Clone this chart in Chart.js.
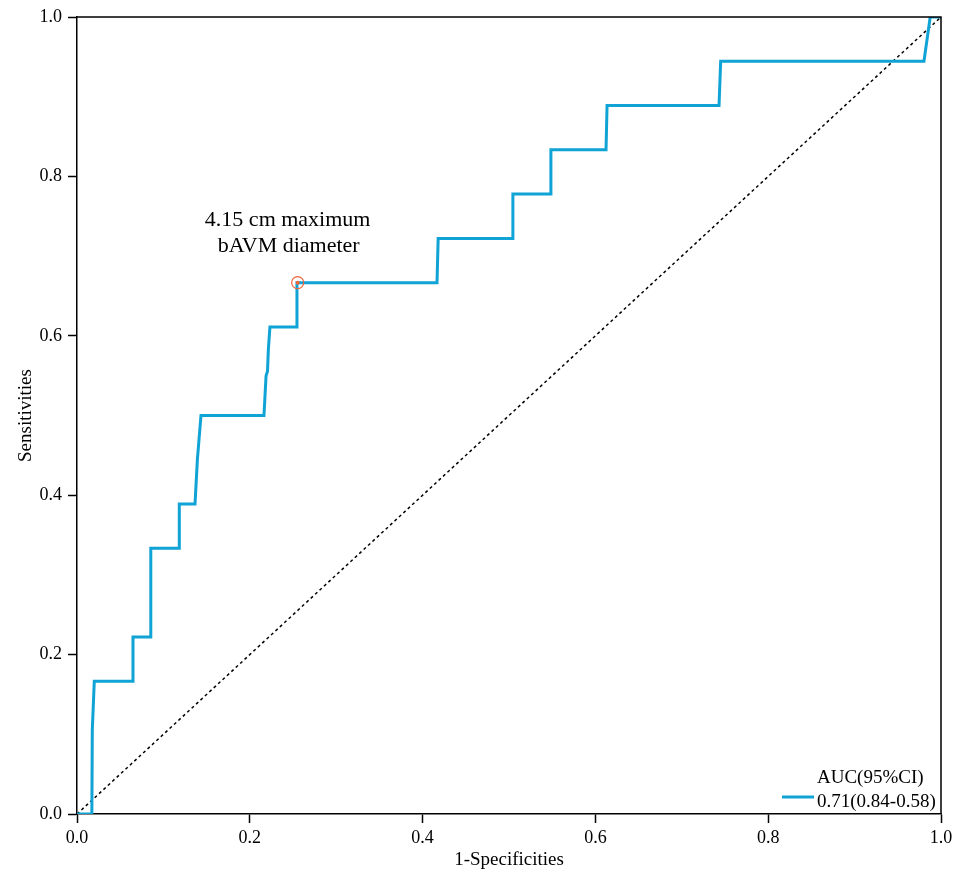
<!DOCTYPE html>
<html>
<head>
<meta charset="utf-8">
<script src="https://cdn.jsdelivr.net/npm/chart.js@4/dist/chart.umd.min.js"></script>
<style>
    body { margin: 0; background: #fff; }
    #wrap { width: 959px; height: 885px; }
</style>
</head>
<body>
<div id="wrap"><canvas id="rocChart"></canvas></div>
<script>
// ROC curve (1-specificity, sensitivity)
const fprValues = [0, 0.0172, 0.0177, 0.0200, 0.0648, 0.0648, 0.0845, 0.0853, 0.0855, 0.1184, 0.1184, 0.1366,
    0.1393, 0.1435, 0.2164, 0.2188, 0.2205, 0.2215, 0.2233, 0.2546, 0.2546, 0.4167, 0.4180, 0.5035, 0.5045,
    0.5475, 0.5485, 0.6123, 0.6135, 0.7431, 0.7450, 0.9803, 0.9875, 1.0];
const tprValues = [0, 0, 0.105, 0.1667, 0.1667, 0.2222, 0.2222, 0.2778, 0.3333, 0.3333, 0.3889, 0.3889,
    0.4444, 0.5, 0.5, 0.5494, 0.5556, 0.5833, 0.6111, 0.6111, 0.6667, 0.6667, 0.7222, 0.7222, 0.7778,
    0.7778, 0.8333, 0.8333, 0.8889, 0.8889, 0.9444, 0.9444, 1.0, 1.0];
const refLine = [0, 1];
const cutoffPoint = [0.2554, 0.6667];
const cutoffLabel = ['4.15 cm maximum', 'bAVM diameter'];
const aucTitle = 'AUC(95%CI)';
const aucLabel = '0.71(0.84-0.58)';
const tickValues = [0, 0.2, 0.4, 0.6, 0.8, 1.0];

const serif = "'Liberation Serif', 'Times New Roman', serif";
const curveColor = '#0fa3d6';
const markColor = '#f0643a';

const toPoints = (xs, ys) => xs.map((x, i) => ({ x: x, y: ys[i] }));

// box round the plot + annotation + legend
const extras = {
    id: 'extras',
    afterDatasetsDraw(chart) {
        const { ctx, chartArea: a, scales } = chart;
        ctx.save();
        ctx.strokeStyle = '#000';
        ctx.lineWidth = 1.5;
        ctx.beginPath();
        ctx.moveTo(a.left, a.top);
        ctx.lineTo(a.right, a.top);
        ctx.lineTo(a.right, a.bottom);
        ctx.stroke();

        // label above cutoff
        const px = scales.x.getPixelForValue(cutoffPoint[0]);
        const py = scales.y.getPixelForValue(cutoffPoint[1]);
        ctx.fillStyle = '#000';
        ctx.font = '22px ' + serif;
        ctx.textAlign = 'center';
        ctx.textBaseline = 'alphabetic';
        ctx.fillText(cutoffLabel[0], px - 10, py - 57);
        ctx.fillText(cutoffLabel[1], px - 9, py - 31);

        // legend bottom right
        ctx.font = '19px ' + serif;
        ctx.textAlign = 'left';
        ctx.fillText(aucTitle, a.right - 124, a.bottom - 31);
        ctx.fillText(aucLabel, a.right - 124, a.bottom - 7);
        ctx.strokeStyle = curveColor;
        ctx.lineWidth = 3;
        ctx.beginPath();
        ctx.moveTo(a.right - 159, a.bottom - 17);
        ctx.lineTo(a.right - 127, a.bottom - 17);
        ctx.stroke();
        ctx.restore();
    }
};

const config = {
    type: 'scatter',
    data: {
        datasets: [
            {
                label: aucLabel,
                data: toPoints(fprValues, tprValues),
                showLine: true,
                borderColor: curveColor,
                borderWidth: 3,
                pointRadius: 0,
                tension: 0,
                order: 2
            },
            {
                label: 'reference',
                data: toPoints(refLine, refLine),
                showLine: true,
                borderColor: '#000',
                borderWidth: 1.5,
                borderDash: [3, 3],
                pointRadius: 0,
                order: 3
            },
            {
                label: 'cutoff',
                data: [{ x: cutoffPoint[0], y: cutoffPoint[1] }],
                pointRadius: 6,
                pointBorderWidth: 1.2,
                pointBorderColor: markColor,
                pointBackgroundColor: 'rgba(0,0,0,0)',
                order: 1
            },
            {
                label: 'cutoff dot',
                data: [{ x: cutoffPoint[0], y: cutoffPoint[1] }],
                pointRadius: 2,
                pointBorderWidth: 0,
                pointBackgroundColor: markColor,
                order: 0
            }
        ]
    },
    options: {
        responsive: true,
        maintainAspectRatio: false,
        animation: false,
        layout: { padding: { top: 17, right: 18, left: 0, bottom: 0 } },
        plugins: {
            legend: { display: false },
            tooltip: { enabled: false }
        },
        scales: {
            x: {
                type: 'linear',
                min: 0,
                max: 1,
                afterFit: (s) => { s.height = 71; },
                afterBuildTicks: (s) => { s.ticks = tickValues.map(v => ({ value: v })); },
                border: { display: true, color: '#000', width: 1.5 },
                grid: { drawOnChartArea: false, drawTicks: true, tickLength: 9, color: '#000', tickWidth: 1.5 },
                ticks: {
                    padding: 4,
                    color: '#000',
                    font: { family: serif, size: 18 },
                    callback: (v) => v.toFixed(1)
                },
                title: {
                    display: true,
                    text: '1-Specificities',
                    color: '#000',
                    font: { family: serif, size: 19 },
                    padding: { top: 0, bottom: 14 }
                }
            },
            y: {
                type: 'linear',
                min: 0,
                max: 1,
                afterFit: (s) => { s.width = 77; },
                afterBuildTicks: (s) => { s.ticks = tickValues.map(v => ({ value: v })); },
                border: { display: true, color: '#000', width: 1.5 },
                grid: { drawOnChartArea: false, drawTicks: true, tickLength: 9, color: '#000', tickWidth: 1.5 },
                ticks: {
                    padding: 6,
                    color: '#000',
                    font: { family: serif, size: 18 },
                    callback: (v) => v.toFixed(1)
                },
                title: {
                    display: true,
                    text: 'Sensitivities',
                    color: '#000',
                    font: { family: serif, size: 19 },
                    padding: { top: 15, bottom: 0 }
                }
            }
        }
    },
    plugins: [extras]
};

new Chart(document.getElementById('rocChart'), config);
</script>
</body>
</html>
